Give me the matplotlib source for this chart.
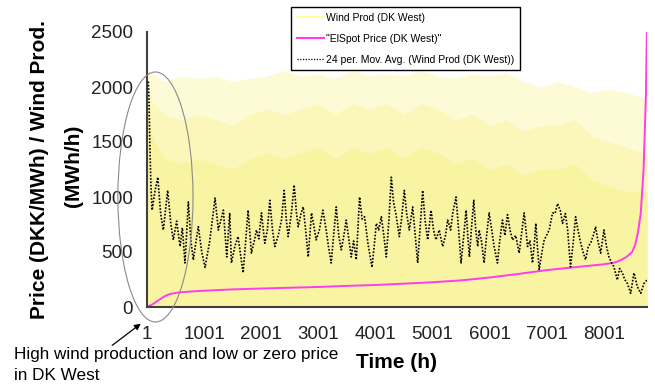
import matplotlib
matplotlib.use("Agg")
import matplotlib.pyplot as plt
from matplotlib.lines import Line2D
from matplotlib.patches import Ellipse

plt.rcParams['font.family'] = ['Liberation Sans', 'DejaVu Sans']

# --- data ---
# wind production shown as a band: upper envelope, the mostly filled part, the solid part
wind_hours = [1, 100, 300, 600, 900, 1200, 1500, 1800, 2100, 2400, 2700, 3000,
              3300, 3600, 3900, 4200, 4500, 4800, 5100, 5400, 5700, 6000, 6300,
              6600, 6900, 7200, 7500, 7800, 8100, 8400, 8700, 8760]
wind_upper = [2150, 2120, 2050, 2100, 2080, 2100, 2050, 2080, 2100, 2150, 2100, 2120,
              2080, 2150, 2100, 2120, 2100, 2150, 2100, 2080, 2120, 2100, 2130,
              2050, 2000, 2050, 2000, 1950, 1980, 1950, 1900, 1850]
wind_mid = [2050, 1850, 1750, 1700, 1750, 1700, 1650, 1750, 1800, 1750, 1800, 1850,
            1750, 1850, 1800, 1850, 1750, 1850, 1800, 1700, 1750, 1650, 1700,
            1600, 1650, 1650, 1700, 1550, 1500, 1450, 1400, 1400]
wind_dense = [1900, 1550, 1350, 1300, 1350, 1300, 1250, 1350, 1400, 1350, 1400, 1450,
              1350, 1450, 1400, 1450, 1350, 1450, 1400, 1300, 1350, 1250, 1300,
              1200, 1250, 1250, 1300, 1150, 1100, 1050, 1050, 1050]

# sorted ElSpot price (duration curve)
price_hours = [1, 100, 200, 300, 400, 550, 800, 1000, 1500, 2000, 2500, 3000, 3500,
               4000, 4500, 5000, 5500, 6000, 6500, 7000, 7500, 8000, 8200, 8300,
               8400, 8500, 8550, 8600, 8650, 8700, 8740, 8760]
price_vals = [0, 25, 60, 95, 118, 132, 142, 148, 160, 168, 175, 182, 192,
              200, 212, 225, 242, 268, 300, 335, 362, 388, 405, 425,
              455, 500, 560, 670, 850, 1250, 1900, 2600]

# 24 h moving average of wind production
ma_hours = [24, 35, 50, 70, 90, 140, 190, 240, 287, 363, 420, 462, 520, 580, 620, 667,
            725, 770, 813, 860, 900, 960, 1018, 1100, 1193, 1251, 1300, 1339, 1398,
            1450, 1480, 1540, 1596, 1684, 1730, 1772, 1830, 1880, 1918, 1960, 2006,
            2064, 2110, 2152, 2200, 2240, 2300, 2357, 2404, 2440, 2474, 2530, 2579,
            2620, 2650, 2700, 2737, 2780, 2825, 2883, 2920, 2965, 3020, 3082, 3140,
            3180, 3228, 3270, 3316, 3360, 3404, 3450, 3491, 3540, 3579, 3620, 3667,
            3725, 3770, 3813, 3871, 3942, 3980, 4018, 4060, 4106, 4150, 4193, 4240,
            4281, 4320, 4360, 4421, 4460, 4509, 4550, 4596, 4655, 4700, 4743, 4790,
            4830, 4870, 4918, 4977, 5020, 5064, 5120, 5181, 5230, 5269, 5320, 5357,
            5415, 5460, 5503, 5550, 5591, 5620, 5649, 5690, 5725, 5760, 5795, 5819,
            5860, 5906, 5950, 5994, 6040, 6082, 6140, 6180, 6228, 6270, 6316, 6360,
            6404, 6460, 6520, 6570, 6608, 6640, 6667, 6710, 6754, 6790, 6813, 6840,
            6871, 6920, 6959, 7000, 7047, 7105, 7150, 7193, 7240, 7281, 7330, 7370,
            7420, 7470, 7509, 7550, 7600, 7640, 7684, 7730, 7772, 7820, 7860, 7900,
            7948, 8006, 8050, 8094, 8140, 8181, 8240, 8280, 8328, 8370, 8416, 8474,
            8532, 8591, 8650, 8708, 8760]
ma_vals = [2050, 1900, 1500, 1100, 880, 1050, 1180, 850, 700, 1060, 750, 610, 780, 550, 720, 400,
           955, 600, 427, 600, 730, 500, 360, 600, 990, 700, 800, 880, 455,
           855, 400, 550, 640, 310, 600, 880, 490, 600, 700, 620, 855,
           580, 700, 970, 700, 550, 650, 790, 1060, 800, 640, 850, 1110,
           850, 730, 850, 910, 700, 455, 855, 750, 610, 700, 880, 700,
           550, 400, 650, 910, 650, 520, 650, 790, 600, 455, 600, 430,
           1000, 800, 820, 580, 360, 550, 760, 700, 820, 650, 455, 800,
           1180, 950, 850, 640, 800, 1060, 850, 700, 910, 650, 400, 750,
           1060, 800, 610, 880, 700, 610, 700, 550, 650, 790, 700, 855,
           1000, 700, 400, 650, 880, 650, 455, 750, 970, 700, 550, 700,
           600, 400, 650, 855, 700, 550, 400, 600, 790, 650, 840, 700,
           610, 650, 490, 700, 855, 700, 550, 600, 400, 600, 760, 550,
           340, 500, 610, 650, 700, 855, 850, 940, 880, 760, 850, 700,
           365, 600, 820, 700, 580, 500, 430, 550, 580, 650, 730, 600,
           490, 700, 550, 455, 400, 365, 245, 350, 310, 250, 215, 125,
           310, 185, 125, 215, 245]

x_ticks = [1, 1001, 2001, 3001, 4001, 5001, 6001, 7001, 8001]
y_ticks = [0, 500, 1000, 1500, 2000, 2500]

labels = ['Wind Prod (DK West)', '"ElSpot Price (DK West)"',
          '24 per. Mov. Avg. (Wind Prod (DK West))']

fig = plt.figure(figsize=(6.55, 3.86), dpi=100)
ax = fig.add_axes([147 / 655, 79 / 386, 500 / 655, 275 / 386])

ax.fill_between(wind_hours, 0, wind_upper, color='#fdfbd6', lw=0, zorder=1)
ax.fill_between(wind_hours, 0, wind_mid, color='#fbf7bb', lw=0, zorder=1)
ax.fill_between(wind_hours, 0, wind_dense, color='#f9f4a2', lw=0, zorder=1)
ax.plot(price_hours, price_vals, color='#ff3cf0', lw=1.4, zorder=2)
ax.plot(ma_hours, ma_vals, color='black', lw=1.2, ls=(0, (1, 1)), zorder=3)

ax.set_xlim(1, 8760)
ax.set_ylim(0, 2500)
ax.set_xticks(x_ticks)
ax.set_yticks(y_ticks)
ax.tick_params(axis='both', length=0, labelsize=13.5, colors='#222222')
ax.tick_params(axis='x', pad=14)
ax.tick_params(axis='y', pad=10)
for s in ['top', 'right']:
    ax.spines[s].set_visible(False)
for s in ['left', 'bottom']:
    ax.spines[s].set_color('#404040')
    ax.spines[s].set_linewidth(1.5)

# axis titles
fig.text(40 / 655, 1 - 170 / 386, 'Price (DKK/MWh) / Wind Prod.', rotation=90,
         ha='center', va='center', fontsize=15, fontweight='bold')
fig.text(73 / 655, 1 - 166 / 386, '(MWh/h)', rotation=90,
         ha='center', va='center', fontsize=15, fontweight='bold')
fig.text(397 / 655, 1 - 363 / 386, 'Time (h)', ha='center', va='center',
         fontsize=15, fontweight='bold')

# legend
handles = [Line2D([], [], color='#ffff88', lw=1.2),
           Line2D([], [], color='#ff3cf0', lw=1.5),
           Line2D([], [], color='black', lw=0.9, ls=(0, (1, 1.2)))]
leg = ax.legend(handles, labels, loc='upper left',
                bbox_to_anchor=(291 / 655, 1 - 7 / 386), bbox_transform=fig.transFigure,
                fontsize=7.5, frameon=True, fancybox=False, edgecolor='black',
                framealpha=1, borderpad=0.55, labelspacing=1.05, handlelength=2.6,
                handletextpad=0.2, borderaxespad=0)
leg.get_frame().set_linewidth(1.0)

# annotation: ellipse, arrow and note
ell = Ellipse((149, 1000), width=1316, height=2273, fill=False,
              edgecolor='#8a8a8a', lw=0.8, clip_on=False, zorder=4)
ax.add_patch(ell)
ax.annotate('', xy=(143, 386 - 322), xycoords='figure pixels',
            xytext=(110, 386 - 347), textcoords='figure pixels',
            arrowprops=dict(arrowstyle='-|>', color='black', lw=0.9, mutation_scale=9))
fig.text(14 / 655, 1 - 355 / 386, 'High wind production and low or zero price',
         ha='left', va='center', fontsize=12.3)
fig.text(14 / 655, 1 - 375 / 386, 'in DK West', ha='left', va='center', fontsize=12.3)

fig.savefig('out.png', dpi=100)
